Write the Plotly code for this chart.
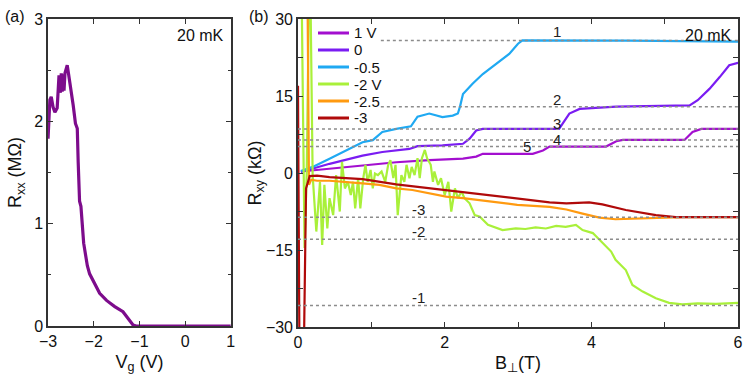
import plotly.graph_objects as go

# panel (a): Rxx vs gate voltage
vg = [-3.00, -2.96, -2.93, -2.89, -2.85, -2.80, -2.76, -2.73, -2.71, -2.69, -2.67, -2.65,
      -2.63, -2.60, -2.58, -2.55, -2.50, -2.45, -2.40, -2.36, -2.34, -2.31, -2.28, -2.25,
      -2.22, -2.18, -2.14, -2.09, -2.03, -1.98, -1.87, -1.72, -1.54, -1.36, -1.25, -1.14,
      -1.07, 0.0, 1.0]
rxx = [1.83, 2.21, 2.24, 2.14, 2.09, 2.13, 2.45, 2.28, 2.47, 2.29, 2.46, 2.30,
       2.47, 2.53, 2.55, 2.46, 2.32, 2.16, 1.98, 1.93, 1.60, 1.22, 1.17, 0.95,
       0.81, 0.70, 0.59, 0.51, 0.46, 0.42, 0.32, 0.25, 0.19, 0.14, 0.07, 0.01,
       0.0, 0.0, 0.0]

# panel (b): Rxy vs B for several gate voltages
b_1v = [0.04, 0.43, 0.88, 1.34, 1.79, 2.25, 2.43, 2.52, 3.00, 3.20, 3.34, 3.43, 4.20, 4.34,
        4.43, 5.27, 5.38, 5.50, 6.00]
r_1v = [0.3, 0.85, 1.5, 2.1, 2.5, 2.8, 3.2, 3.75, 3.75, 3.75, 4.4, 5.16, 5.16, 6.2,
        6.45, 6.45, 8.0, 8.6, 8.6]

b_0 = [0.04, 0.43, 0.88, 1.15, 1.52, 1.63, 1.97, 2.25, 2.34, 2.43, 2.52, 3.56, 3.70, 3.84,
       4.34, 5.34, 5.45, 5.61, 5.75, 5.88, 6.00]
r_0 = [0.2, 1.8, 3.4, 4.1, 4.7, 5.25, 5.4, 5.7, 6.7, 8.3, 8.6, 8.6, 11.6, 12.5,
       12.95, 13.2, 14.2, 16.4, 18.7, 21.0, 21.5]

b_m05 = [0.04, 0.20, 0.43, 0.65, 0.88, 1.02, 1.15, 1.34, 1.54, 1.63, 1.79, 1.97, 2.11, 2.18,
         2.21, 2.25, 2.38, 2.52, 2.70, 2.88, 3.00, 3.06, 4.50, 5.50, 6.00]
r_m05 = [0.4, 1.2, 2.8, 4.4, 6.0, 6.4, 8.0, 8.6, 9.1, 11.0, 11.6, 10.9, 11.2, 11.6,
         13.0, 15.4, 17.4, 19.3, 21.3, 23.2, 25.2, 25.85, 25.8, 25.7, 25.6]

b_m2 = [0.03, 0.05, 0.09, 0.12, 0.15, 0.17,
        0.20, 0.25, 0.30, 0.33, 0.36, 0.40, 0.43, 0.48, 0.52, 0.57, 0.60, 0.64, 0.68, 0.72,
        0.75, 0.78, 0.82, 0.85, 0.89, 0.92, 0.95, 0.99, 1.02, 1.05, 1.09, 1.14, 1.19, 1.23,
        1.26, 1.30, 1.33, 1.36, 1.41, 1.45, 1.48, 1.52, 1.55, 1.59, 1.63, 1.66, 1.69, 1.73,
        1.76, 1.81, 1.84, 1.86, 1.91, 1.95, 2.00, 2.05, 2.09, 2.14, 2.18, 2.23, 2.27, 2.34,
        2.41, 2.48, 2.59, 2.79, 2.97, 3.10, 3.24, 3.38, 3.52, 3.65, 3.79, 3.88, 4.02, 4.16,
        4.27, 4.33, 4.47, 4.56, 4.70, 4.88, 5.06, 5.24, 5.45, 5.70, 6.00]
r_m2 = [35, 35, -14.6, 0.5, 35, 35,
        -0.4, -11.4, -1.7, -14.0, -2.3, -10.8, -4.9, -8.2, -0.4, -7.5, 2.2, -3.0, -1.7, -4.3,
        -1.7, -6.9, -1.0, -6.9, -1.0, 1.6, -1.7, 0.6, -3.0, -0.1, -0.4, 0.3, -1.7, 1.6,
        2.5, -1.0, 1.6, -8.2, -0.4, -1.7, 1.6, -1.0, 1.2, -0.4, 2.9, -1.0, 2.9, 4.5,
        2.9, 1.6, -1.7, 0.3, -2.3, -1.0, -4.3, -1.7, -7.5, -3.0, -4.9, -3.6, -4.9, -5.9,
        -8.2, -8.5, -10.1, -11.1, -10.8, -10.9, -10.6, -10.8, -10.3, -10.5, -10.1, -11.1, -11.7, -13.7,
        -15.3, -16.9, -18.9, -21.8, -23.1, -24.4, -25.3, -25.6, -25.4, -25.5, -25.3]

b_m25 = [0.13, 0.15, 0.18, 0.26, 0.43, 0.65, 0.88, 1.11, 1.34, 1.56, 1.79, 2.02, 2.25, 2.47,
         2.70, 2.99, 3.43, 3.66, 3.88, 4.11, 4.33, 4.79, 5.24, 6.00]
r_m25 = [35, -2.3, -1.3, -1.5, -1.5, -1.7, -2.0, -2.3, -3.0, -3.3, -4.0, -4.6, -4.9, -5.3,
         -5.6, -6.2, -6.6, -7.1, -7.9, -8.7, -9.0, -8.8, -8.6, -8.6]

b_m3 = [0.00, 0.02, 0.08, 0.11, 0.16, 0.26, 0.43, 0.88, 1.34, 1.82, 2.25, 2.59, 2.99, 3.43,
        3.66, 3.97, 4.15, 4.47, 4.88, 5.15, 6.00]
r_m3 = [17.0, -35, -35, -3.0, -0.6, -0.5, -0.8, -1.2, -2.2, -3.0, -3.8, -4.3, -4.9, -5.7,
        -5.9, -5.7, -6.1, -7.2, -8.2, -8.6, -8.6]

series_names = ["1 V", "0", "-0.5", "-2 V", "-2.5", "-3"]
series_b = [b_1v, b_0, b_m05, b_m2, b_m25, b_m3]
series_r = [r_1v, r_0, r_m05, r_m2, r_m25, r_m3]
series_colors = ["#a30fcf", "#7a1cf2", "#1fa9f2", "#a9f03a", "#ff9a10", "#b00a0a"]

# quantized Hall plateaus h/(n e^2)
RK = 25.813
plateau_n = [1, 2, 3, 4, 5, -1, -2, -3]
plateau_start = [1.13, 1.13, 0.0, 0.0, 0.0, 0.0, 0.0, 0.0]
label_b = [3.53, 3.53, 3.53, 3.53, 3.12, 1.65, 1.65, 1.65]
label_shift = [9, 7, 5, 0, 0, 8, 8, 8]

FONT = "Liberation Sans, Arial, sans-serif"
W, H = 747, 382

fig = go.Figure()

fig.add_trace(go.Scatter(x=vg, y=rxx, mode="lines", line=dict(color="#7d0c8c", width=3.2),
                         showlegend=False, xaxis="x", yaxis="y"))

for name, bb, rr, col in zip(series_names, series_b, series_r, series_colors):
    fig.add_trace(go.Scatter(x=bb, y=rr, mode="lines", name=name, showlegend=False,
                             line=dict(color=col, width=2.2), xaxis="x2", yaxis="y2"))

for n, b0 in zip(plateau_n, plateau_start):
    fig.add_trace(go.Scatter(x=[b0, 6.0], y=[RK / n, RK / n], mode="lines",
                             line=dict(color="#8c8c8c", width=1.5, dash="dot"),
                             showlegend=False, hoverinfo="skip", xaxis="x2", yaxis="y2"))

annotations = []
for n, lb, sh in zip(plateau_n, label_b, label_shift):
    annotations.append(dict(x=lb, y=RK / n, xref="x2", yref="y2", text=str(n),
                            showarrow=False, yshift=sh, font=dict(size=15, color="#222")))

# hand-made legend (tight row spacing like the original)
shapes = []
for i, (name, col) in enumerate(zip(series_names, series_colors)):
    py = 33 + 17 * i
    shapes.append(dict(type="line", xref="paper", yref="paper",
                       x0=318 / W, x1=349 / W, y0=1 - py / H, y1=1 - py / H,
                       line=dict(color=col, width=3)))
    annotations.append(dict(x=352 / W, y=1 - py / H, xref="paper", yref="paper", text=name,
                            showarrow=False, xanchor="left", yanchor="middle",
                            font=dict(size=15, color="#111")))

annotations += [
    dict(x=0.004, y=0.985, xref="paper", yref="paper", text="(a)", showarrow=False,
         xanchor="left", yanchor="top", font=dict(size=16)),
    dict(x=0.331, y=0.985, xref="paper", yref="paper", text="(b)", showarrow=False,
         xanchor="left", yanchor="top", font=dict(size=16)),
    dict(x=0.302, y=0.935, xref="paper", yref="paper", text="20 mK", showarrow=False,
         xanchor="right", yanchor="top", font=dict(size=16)),
    dict(x=0.982, y=0.935, xref="paper", yref="paper", text="20 mK", showarrow=False,
         xanchor="right", yanchor="top", font=dict(size=16)),
]

axis_common = dict(showline=True, linecolor="#333", linewidth=1.5, mirror="ticks",
                   ticks="inside", ticklen=5, tickcolor="#333", showgrid=False,
                   zeroline=False, automargin=False, tickfont=dict(size=16, color="#111"))

fig.update_layout(
    width=W, height=H,
    margin=dict(l=0, r=0, t=0, b=0),
    paper_bgcolor="white", plot_bgcolor="white",
    font=dict(family=FONT, color="#111"),
    showlegend=False,
    xaxis=dict(domain=[0.0643, 0.309], range=[-3, 1], dtick=1,
               title=dict(text="V<sub>g</sub> (V)", font=dict(size=18), standoff=6),
               **axis_common),
    yaxis=dict(domain=[0.1466, 0.950], range=[0, 3], dtick=1,
               minor=dict(dtick=0.5, ticks="inside", ticklen=3, tickcolor="#333"),
               title=dict(text="R<sub>xx</sub> (MΩ)", font=dict(size=18), standoff=8),
               **axis_common),
    xaxis2=dict(domain=[0.3989, 0.988], range=[0, 6], dtick=2, anchor="y2",
                minor=dict(dtick=1, ticks="inside", ticklen=5, tickcolor="#333"),
                title=dict(text="B<sub>⊥</sub>(T)", font=dict(size=18), standoff=6),
                **axis_common),
    yaxis2=dict(domain=[0.1440, 0.950], range=[-30, 30], dtick=15, anchor="x2",
                minor=dict(dtick=7.5, ticks="inside", ticklen=5, tickcolor="#333"),
                title=dict(text="R<sub>xy</sub> (kΩ)", font=dict(size=18), standoff=0),
                **axis_common),
    shapes=shapes,
    annotations=annotations,
)

# drop the browser's default page margin so the figure sits at the window origin
fig.write_html("out.html", config={"displayModeBar": False},
               post_script="document.body.style.margin='0';document.body.style.overflow='hidden';")
